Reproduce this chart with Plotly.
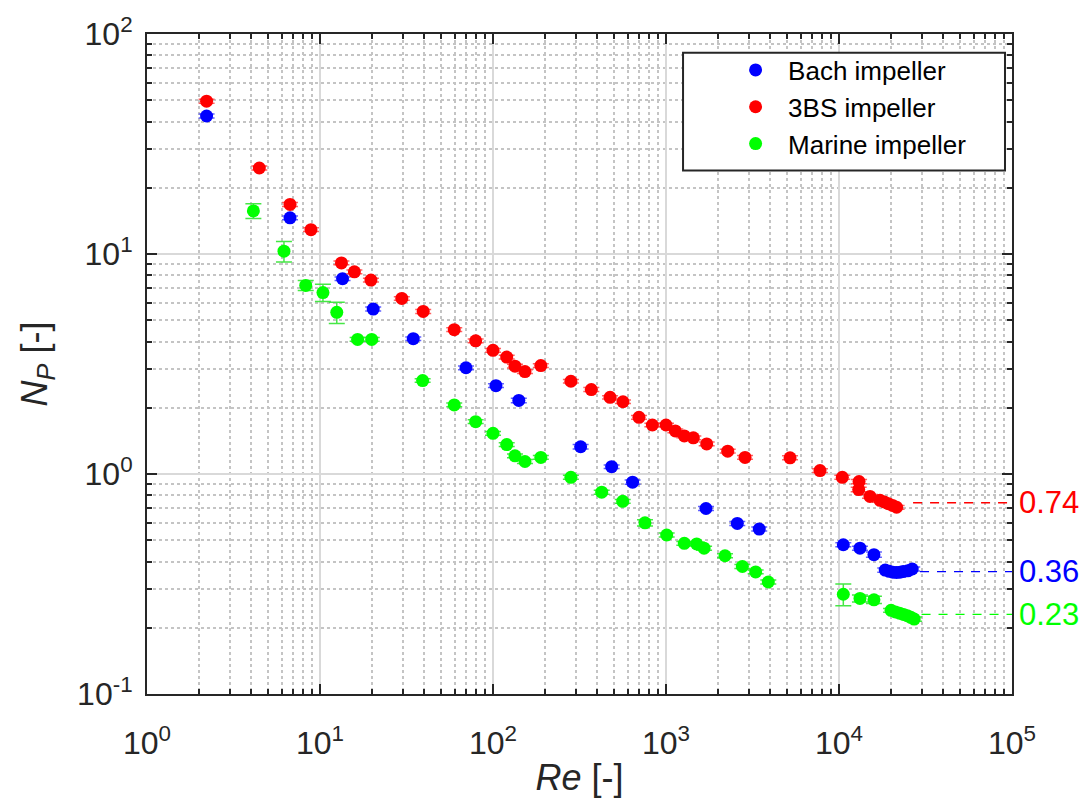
import math
import plotly.graph_objects as go

# Power number vs Reynolds number for three impeller types
re_bach = [2.21, 6.71, 13.5, 20.3, 34.6, 69.8, 104, 141, 321, 485, 641, 1703, 2583, 3460,
           10590, 13220, 15920, 18500, 19500, 20500, 21500, 22500, 23500, 25000, 26500]
np_bach = [42.4, 14.6, 7.72, 5.62, 4.12, 3.04, 2.52, 2.16, 1.33, 1.08, 0.918, 0.697, 0.596, 0.562,
           0.477, 0.460, 0.430, 0.366, 0.361, 0.358, 0.357, 0.358, 0.360, 0.363, 0.370]
err_bach = [0.9, 0.3, 0.15, 0.12, 0.08, 0.06, 0.05, 0.05, 0.03, 0.02, 0.02, 0.015, 0.012, 0.012,
            0.01, 0.01, 0.012, 0.008, 0.008, 0.008, 0.008, 0.008, 0.008, 0.008, 0.008]

re_3bs = [2.21, 4.46, 6.71, 8.87, 13.3, 15.8, 19.7, 29.7, 39.5, 59.7, 79.4, 100, 120, 134, 153,
          189, 282, 370, 475, 564, 698, 834, 1000, 1132, 1276, 1439, 1719, 2274, 2863, 5212, 7765,
          10450, 13060, 13000, 15110, 17260, 18300, 19280, 20400, 21530]
np_3bs = [49.5, 24.6, 16.8, 12.9, 9.11, 8.30, 7.61, 6.28, 5.48, 4.53, 4.03, 3.65, 3.40, 3.09, 2.92,
          3.11, 2.64, 2.42, 2.23, 2.13, 1.81, 1.67, 1.67, 1.57, 1.49, 1.46, 1.37, 1.27, 1.19, 1.185, 1.036,
          0.966, 0.924, 0.850, 0.791, 0.759, 0.746, 0.733, 0.720, 0.706]
err_3bs = [1.0, 0.5, 0.35, 0.26, 0.18, 0.16, 0.15, 0.12, 0.11, 0.09, 0.08, 0.07, 0.07, 0.06, 0.06,
           0.06, 0.05, 0.05, 0.04, 0.04, 0.035, 0.03, 0.03, 0.03, 0.03, 0.03, 0.027, 0.025, 0.024, 0.024, 0.02,
           0.02, 0.02, 0.02, 0.016, 0.015, 0.015, 0.015, 0.014, 0.014]

re_marine = [4.12, 6.19, 8.27, 10.4, 12.5, 16.5, 19.9, 39.2, 59.7, 79.4, 100, 120, 134, 153, 189,
             282, 425, 562, 756, 1009, 1276, 1504, 1660, 2193, 2763, 3298, 3902,
             10590, 13220, 15920, 20000, 21200, 22400, 23600, 24800, 26000, 27200]
np_marine = [15.7, 10.3, 7.20, 6.68, 5.43, 4.09, 4.09, 2.66, 2.06, 1.73, 1.53, 1.36, 1.21, 1.14, 1.19,
             0.966, 0.827, 0.751, 0.600, 0.528, 0.484, 0.481, 0.460, 0.425, 0.380, 0.359, 0.323,
             0.284, 0.272, 0.268, 0.240, 0.236, 0.233, 0.230, 0.227, 0.223, 0.219]
err_marine = [1.2, 1.1, 0.38, 0.6, 0.6, 0.08, 0.08, 0.05, 0.04, 0.035, 0.03, 0.027, 0.024, 0.023, 0.024,
              0.02, 0.017, 0.015, 0.02, 0.011, 0.01, 0.01, 0.01, 0.009, 0.008, 0.007, 0.007,
              0.032, 0.01, 0.01, 0.005, 0.005, 0.005, 0.005, 0.005, 0.005, 0.005]

# Turbulent-regime plateau values (3BS, Bach, Marine) and where each dashed guide begins
plateau_values = [0.74, 0.36, 0.23]
plateau_start = [26800, 29400, 30000]
plateau_end = 1e5

names = ["Bach impeller", "3BS impeller", "Marine impeller"]
BLUE, RED, GREEN = "#0000ff", "#ff0000", "#00ff00"
colors = [BLUE, RED, GREEN]
bar_colors = ["rgba(80,80,255,0.9)", "rgba(255,80,80,0.9)", "rgba(60,230,60,0.95)"]
plateau_colors = [RED, BLUE, GREEN]

x_ticks = [1, 10, 100, 1e3, 1e4, 1e5]
x_ticktext = ["10<sup>0</sup>", "10<sup>1</sup>", "10<sup>2</sup>", "10<sup>3</sup>",
              "10<sup>4</sup>", "10<sup>5</sup>"]
y_ticks = [0.1, 1, 10, 100]
y_ticktext = ["10<sup>-1</sup>", "10<sup>0</sup>", "10<sup>1</sup>", "10<sup>2</sup>"]

FONT = "Arial, Liberation Sans, sans-serif"
INK = "#262626"

fig = go.Figure()

series = [(re_bach, np_bach, err_bach), (re_3bs, np_3bs, err_3bs), (re_marine, np_marine, err_marine)]
for (xs, ys, es), name, col, bcol in zip(series, names, colors, bar_colors):
    fig.add_trace(go.Scatter(
        x=xs, y=ys, mode="markers", name=name,
        marker=dict(color=col, size=13, line=dict(width=0)),
        error_y=dict(type="data", array=es, visible=True, color=bcol, thickness=1.5, width=8),
    ))

for val, x0, col in zip(plateau_values, plateau_start, plateau_colors):
    fig.add_trace(go.Scatter(
        x=[x0, plateau_end], y=[val, val], mode="lines", showlegend=False,
        line=dict(color=col, width=1.3, dash="9px,8px"), hoverinfo="skip",
    ))
    fig.add_annotation(
        x=1, xref="paper", y=math.log10(val), yref="y", text=f"{val:.2f}", showarrow=False,
        xanchor="left", yanchor="middle", xshift=5,
        font=dict(family=FONT, size=31, color=col),
    )

minor_vals = [m * 10 ** e for e in range(-1, 5) for m in range(2, 10)]

axis_common = dict(
    type="log", showline=True, linecolor=INK, linewidth=2, mirror="allticks",
    ticks="inside", ticklen=10, tickwidth=1.5, tickcolor=INK,
    showgrid=True, gridcolor="#d9d9d9", gridwidth=2,
    tickfont=dict(family=FONT, size=32, color=INK),
    zeroline=False,
)

minor_common = dict(tickmode="array", ticks="inside", ticklen=5, tickcolor=INK, showgrid=True,
                    gridcolor="#c4c4c4", griddash="dot", gridwidth=1.5)

fig.update_xaxes(
    **axis_common, range=[0, 5], tickmode="array", tickvals=x_ticks, ticktext=x_ticktext,
    ticklabelstandoff=20,
    minor=dict(**minor_common, tickvals=[v for v in minor_vals if 1 < v < 1e5]),
    title=dict(text="<i>Re</i> [-]", font=dict(family=FONT, size=36, color=INK), standoff=4),
)
fig.update_yaxes(
    **axis_common, range=[-1, 2], tickmode="array", tickvals=y_ticks, ticktext=y_ticktext,
    ticklabelstandoff=6,
    minor=dict(**minor_common, tickvals=[v for v in minor_vals if 0.1 < v < 100]),
    title=dict(text="<i>N<sub>P</sub></i> [-]", font=dict(family=FONT, size=36, color=INK), standoff=18),
)

# legend frame
fig.add_shape(type="rect", xref="paper", yref="paper", x0=0.6197, x1=0.9919, y0=0.7931, y1=0.9715,
              line=dict(color=INK, width=2), fillcolor="white", layer="above")

fig.update_layout(
    width=1087, height=805,
    margin=dict(l=147, r=75, t=27, b=111),
    paper_bgcolor="white", plot_bgcolor="white",
    font=dict(family=FONT, color=INK),
    showlegend=True,
    legend=dict(
        x=0.666, y=0.981, xanchor="left", yanchor="top",
        bgcolor="rgba(0,0,0,0)", borderwidth=0,
        font=dict(family=FONT, size=26, color="black"),
        itemwidth=55,
    ),
)

fig.write_html("out.html")
